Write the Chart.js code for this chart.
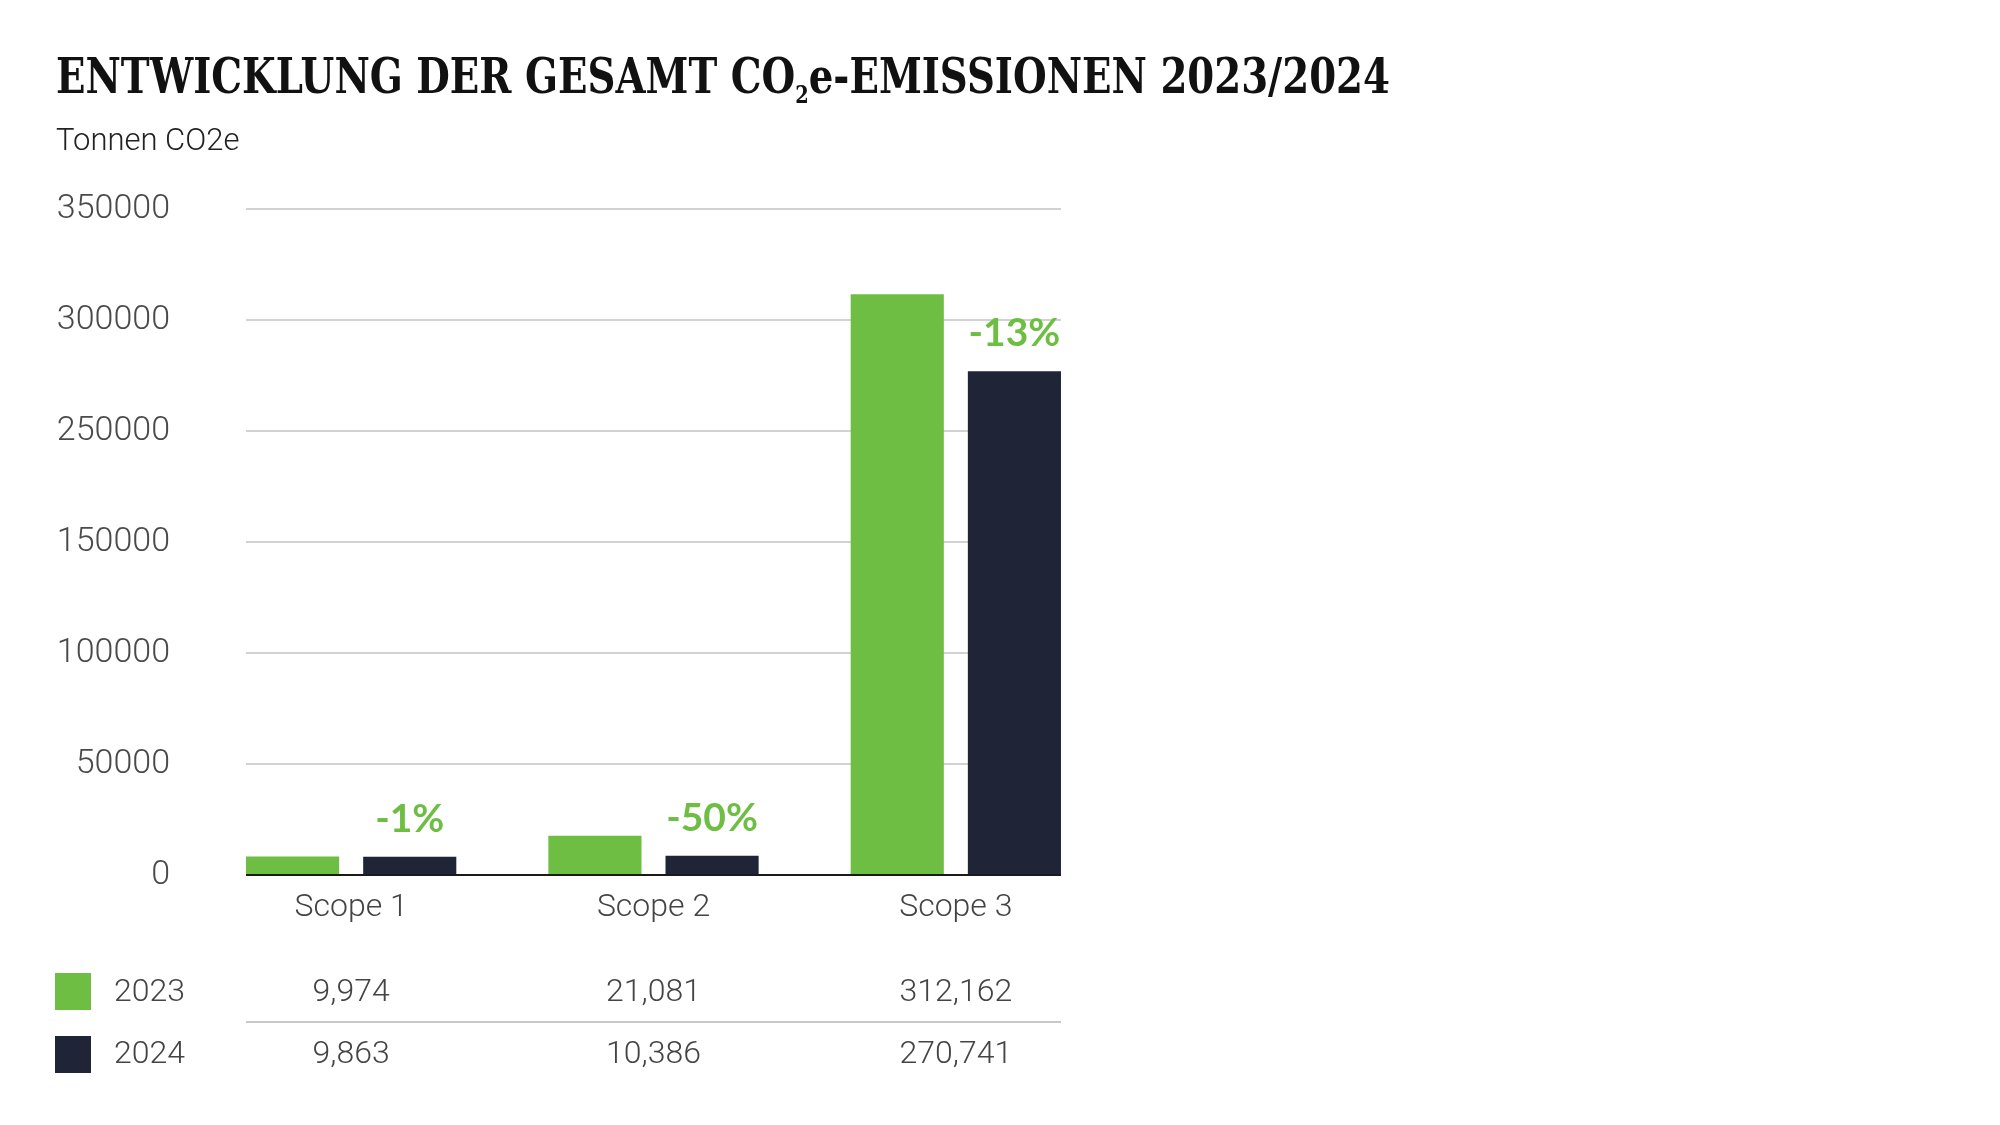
<!DOCTYPE html>
<html lang="de">
<head>
<meta charset="utf-8">
<title>Entwicklung der Gesamt CO2e-Emissionen 2023/2024</title>
<script src="https://cdn.jsdelivr.net/npm/chart.js@4.4.1/dist/chart.umd.min.js"></script>
<style>
    html, body {
        margin: 0;
        padding: 0;
        background: #ffffff;
    }
    #wrap {
        position: relative;
        width: 2000px;
        height: 1125px;
        overflow: hidden;
    }
    #chart {
        position: absolute;
        left: 0;
        top: 0;
    }
    .title {
        position: absolute;
        left: 56px;
        top: 52px;
        margin: 0;
        font-family: "DejaVu Serif Condensed", "DejaVu Serif", serif;
        font-stretch: condensed;
        font-weight: bold;
        font-size: 49px;
        line-height: 1;
        color: #111111;
        white-space: nowrap;
        transform-origin: 0 0;
    }
    .title sub {
        font-size: 0.5em;
        vertical-align: -0.4em;
        line-height: 0;
    }
    .subtitle {
        position: absolute;
        left: 56px;
        top: 124px;
        font-family: Roboto, sans-serif;
        font-weight: 300;
        font-size: 31px;
        line-height: 1;
        color: #222222;
    }
    .swatch {
        position: absolute;
        left: 55px;
        width: 36px;
        height: 37px;
    }
    .cell {
        position: absolute;
        font-family: Roboto, sans-serif;
        font-weight: 300;
        font-size: 32px;
        line-height: 1;
        color: #444444;
        white-space: nowrap;
    }
    .cell.value {
        transform: translateX(-50%);
    }
    .divider {
        position: absolute;
        height: 2px;
        background: #c8c8c8;
    }
</style>
</head>
<body>
<div id="wrap">
    <canvas id="chart" width="2000" height="1125"></canvas>
    <h1 class="title" id="title">ENTWICKLUNG DER GESAMT CO<sub>2</sub>e-EMISSIONEN 2023/2024</h1>
    <div class="subtitle">Tonnen CO2e</div>
    <div id="table"></div>
</div>
<script>
// data
const categories = ['Scope 1', 'Scope 2', 'Scope 3'];
const seriesYears = ['2023', '2024'];
const values2023 = [9974, 21081, 312162];
const values2024 = [9863, 10386, 270741];
const changeLabels = ['-1%', '-50%', '-13%'];
// the original axis skips 200000 but keeps even spacing
const yTickLabels = ['0', '50000', '100000', '150000', '250000', '300000', '350000'];
const yMax = 358000;

const GREEN = '#6fbe44';
const NAVY = '#1f2537';

// light gridlines only as wide as the bar groups, dark base line on top of the bars
const gridPlugin = {
    id: 'groupGrid',
    barExtent(chart) {
        const first = chart.getDatasetMeta(0).data[0];
        const last = chart.getDatasetMeta(1).data[categories.length - 1];
        return {
            left: first.x - first.width / 2,
            right: last.x + last.width / 2
        };
    },
    beforeDatasetsDraw(chart) {
        const { ctx, scales: { y } } = chart;
        const ext = this.barExtent(chart);
        ctx.save();
        ctx.strokeStyle = '#d2d2d2';
        ctx.lineWidth = 2;
        y.ticks.forEach(t => {
            if (t.value === 0) return;
            const py = Math.round(y.getPixelForValue(t.value));
            ctx.beginPath();
            ctx.moveTo(ext.left, py);
            ctx.lineTo(ext.right, py);
            ctx.stroke();
        });
        ctx.restore();
    },
    afterDatasetsDraw(chart) {
        const { ctx, scales: { y } } = chart;
        const ext = this.barExtent(chart);
        const py = Math.round(y.getPixelForValue(0));
        ctx.save();
        ctx.strokeStyle = '#1a1a1a';
        ctx.lineWidth = 2;
        ctx.beginPath();
        ctx.moveTo(ext.left, py);
        ctx.lineTo(ext.right, py);
        ctx.stroke();

        // change labels above the 2024 bars
        ctx.fillStyle = GREEN;
        ctx.font = 'bold 39px Lato, "Open Sans", sans-serif';
        ctx.textAlign = 'center';
        ctx.textBaseline = 'alphabetic';
        chart.getDatasetMeta(1).data.forEach((bar, i) => {
            ctx.fillText(changeLabels[i], bar.x, bar.y - 25);
        });
        ctx.restore();
    }
};

const chart = new Chart(document.getElementById('chart'), {
    type: 'bar',
    data: {
        labels: categories,
        datasets: [
            {
                label: seriesYears[0],
                data: values2023,
                backgroundColor: GREEN,
                borderWidth: 0,
                categoryPercentage: 0.775,
                barPercentage: 0.795
            },
            {
                label: seriesYears[1],
                data: values2024,
                backgroundColor: NAVY,
                borderWidth: 0,
                categoryPercentage: 0.775,
                barPercentage: 0.795
            }
        ]
    },
    options: {
        responsive: false,
        animation: false,
        devicePixelRatio: 1,
        layout: {
            padding: { top: 209, right: 893, bottom: 0, left: 0 }
        },
        plugins: {
            legend: { display: false },
            tooltip: { enabled: false }
        },
        scales: {
            x: {
                grid: { display: false, drawTicks: false },
                border: { display: false },
                ticks: {
                    color: '#444444',
                    padding: 14,
                    font: { family: 'Roboto', weight: 300, size: 32 }
                },
                afterFit(scale) {
                    scale.height = 250;
                }
            },
            y: {
                min: 0,
                max: yMax,
                grid: { display: false, drawTicks: false },
                border: { display: false },
                ticks: {
                    count: yTickLabels.length,
                    color: '#4a4a4a',
                    padding: 30,
                    font: { family: 'Roboto', weight: 300, size: 34 },
                    callback: (value, index) => yTickLabels[index]
                },
                afterFit(scale) {
                    scale.width = 200;
                }
            }
        }
    },
    plugins: [gridPlugin]
});

// value table under the chart, columns aligned to the bar groups
function buildTable() {
    const table = document.getElementById('table');
    const x = chart.scales.x;
    const rows = [
        { year: seriesYears[0], color: GREEN, values: values2023, swatchTop: 973, textTop: 974 },
        { year: seriesYears[1], color: NAVY, values: values2024, swatchTop: 1036, textTop: 1036 }
    ];
    let html = '';
    rows.forEach(row => {
        html += `<div class="swatch" style="top:${row.swatchTop}px;background:${row.color}"></div>`;
        html += `<div class="cell" style="left:114px;top:${row.textTop}px">${row.year}</div>`;
        row.values.forEach((v, i) => {
            html += `<div class="cell value" style="left:${x.getPixelForValue(i)}px;top:${row.textTop}px">${v.toLocaleString('en-US')}</div>`;
        });
    });
    const ext = gridPlugin.barExtent(chart);
    html += `<div class="divider" style="top:1021px;left:${ext.left}px;width:${ext.right - ext.left}px"></div>`;
    table.innerHTML = html;
}

// stretch the title to the width it has in the original
function fitTitle() {
    const title = document.getElementById('title');
    const target = 1334;
    const w = title.getBoundingClientRect().width;
    if (w > 0) {
        title.style.transform = `scaleX(${target / w})`;
    }
}

buildTable();
fitTitle();
</script>
</body>
</html>
